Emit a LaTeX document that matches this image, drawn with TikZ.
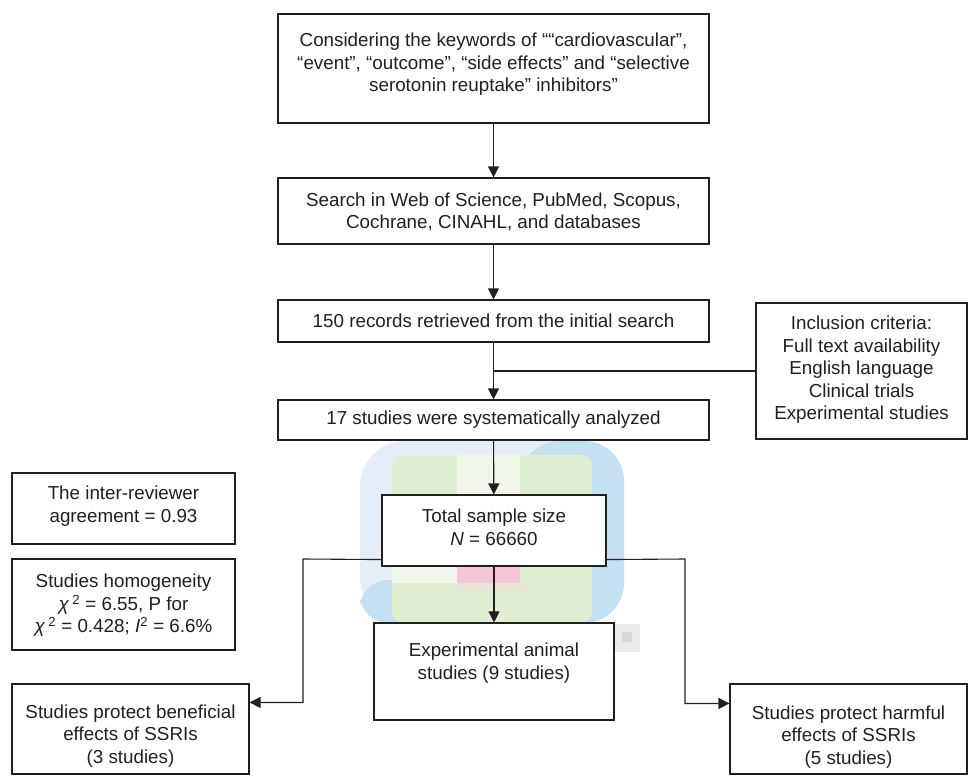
\documentclass[tikz,border=0pt]{standalone}
\usepackage{fontspec}
\setmainfont{Liberation Sans}
\usetikzlibrary{arrows.meta,calc}
\definecolor{ink}{RGB}{35,31,32}
\definecolor{blobblue}{RGB}{196,224,241}
\definecolor{blobblueL}{RGB}{229,238,248}
\definecolor{blobgreen}{RGB}{224,238,210}
\definecolor{blobgreenL}{RGB}{240,246,234}
\definecolor{blobpink}{RGB}{246,196,216}
\definecolor{blobbeige}{RGB}{232,228,216}
\definecolor{blobgrey}{RGB}{234,234,234}
\definecolor{blobgreyD}{RGB}{215,215,215}
\begin{document}
\begin{tikzpicture}[x=1pt,y=-1pt,
  box/.style={draw=ink, line width=1.1pt, fill=white, inner sep=0pt},
  txt/.style={text=ink, align=center, font=\fontsize{18.8}{22.5}\selectfont, inner sep=0pt},
  conn/.style={draw=ink, line width=1.1pt},
  arr/.style={conn, -{Triangle[length=11pt,width=11pt]}}]
\useasboundingbox (0,0) rectangle (969,776);

% background blob
\fill[blobblueL, rounded corners=45pt] (360,441) rectangle (624,623);
\fill[blobblue, rounded corners=40pt] (520,441) rectangle (624,623);
\fill[blobblue, rounded corners=28pt] (360,580) rectangle (470,623);
\fill[blobgreen, rounded corners=10pt] (392,455) rectangle (592,622);
\fill[blobgreenL] (457,455) rectangle (520,567);
\fill[blobgreenL] (392,567) rectangle (457,583);
\fill[blobpink] (457,567) rectangle (520,583);
\fill[blobbeige] (457,583) rectangle (527,591);
\fill[blobgrey] (614,624) rectangle (640,652);
\fill[blobgreyD] (622,632) rectangle (632,642);

% boxes
\node[box, minimum width=431pt, minimum height=109pt] (b1) at (493.5,68.5) {};
\node[box, minimum width=431pt, minimum height=66pt] (b2) at (493.5,211) {};
\node[box, minimum width=431pt, minimum height=42pt] (b3) at (493.5,321) {};
\node[box, minimum width=431pt, minimum height=40pt] (b4) at (493.5,420) {};
\node[box, minimum width=211pt, minimum height=136pt] (inc) at (861.5,371) {};
\node[box, minimum width=224pt, minimum height=71pt] (b5) at (494,530.5) {};
\node[box, minimum width=240pt, minimum height=97pt] (b6) at (494,671.5) {};
\node[box, minimum width=237pt, minimum height=90pt] (b7) at (130.5,729) {};
\node[box, minimum width=237pt, minimum height=90pt] (b8) at (848.5,729) {};
\node[box, minimum width=223pt, minimum height=71pt] (b9) at (123.5,508.5) {};
\node[box, minimum width=223pt, minimum height=91pt] (b10) at (123.5,604.5) {};

% texts
\node[txt] (t1) at (493.5,64.5) {Considering the keywords of ““cardiovascular”,\\ “event”, “outcome”, “side effects” and “selective\\ serotonin reuptake” inhibitors”};
\node[txt] (t2) at (493.5,212) {Search in Web of Science, PubMed, Scopus,\\ Cochrane, CINAHL, and databases};
\node[txt] (t3) at (493.5,321) {150 records retrieved from the initial search};
\node[txt] (t4) at (493.5,420) {17 studies were systematically analyzed};
\node[txt] (tinc) at (861.5,370) {Inclusion criteria:\\ Full text availability\\ English language\\ Clinical trials\\ Experimental studies};
\node[txt] (t5) at (494,527.5) {Total sample size\\ \textit{N} = 66660};
\node[txt] (t6) at (494,663) {Experimental animal\\ studies (9 studies)};
\node[txt] (t7) at (130.5,736) {Studies protect beneficial\\ effects of SSRIs\\ (3 studies)};
\node[txt] (t8) at (848.5,737) {Studies protect harmful\\ effects of SSRIs\\ (5 studies)};
\node[txt] (t9) at (123.5,506) {The inter-reviewer\\ agreement = 0.93};
\node[txt] (t10) at (123.5,605.5) {Studies homogeneity\\ \textit{χ}\,\textsuperscript{2} = 6.55, P for\\ \textit{χ}\,\textsuperscript{2} = 0.428; \textit{I}\textsuperscript{2} = 6.6\%};

% connectors
\draw[arr] (b1) -- (b2);
\draw[arr] (b2) -- (b3);
\draw[arr] (b3) -- (b4);
\draw[conn] (inc.west) -- (inc.west -| b3.south);
\draw[arr] (b4) -- (b5);
\draw[arr] (b5) -- (b6);
\coordinate (lj) at ($(b5.south west)+(0,-7)$);
\coordinate (lc) at (303,559);
\coordinate (lt) at ($(b7.north east)+(0,19)$);
\draw[arr] (lj) -- (lc) |- (lt);
\coordinate (rj) at ($(b5.south east)+(0,-7)$);
\coordinate (rc) at (685,559);
\coordinate (rt) at ($(b8.north west)+(0,20)$);
\draw[arr] (rj) -- (rc) |- (rt);
\end{tikzpicture}
\end{document}
